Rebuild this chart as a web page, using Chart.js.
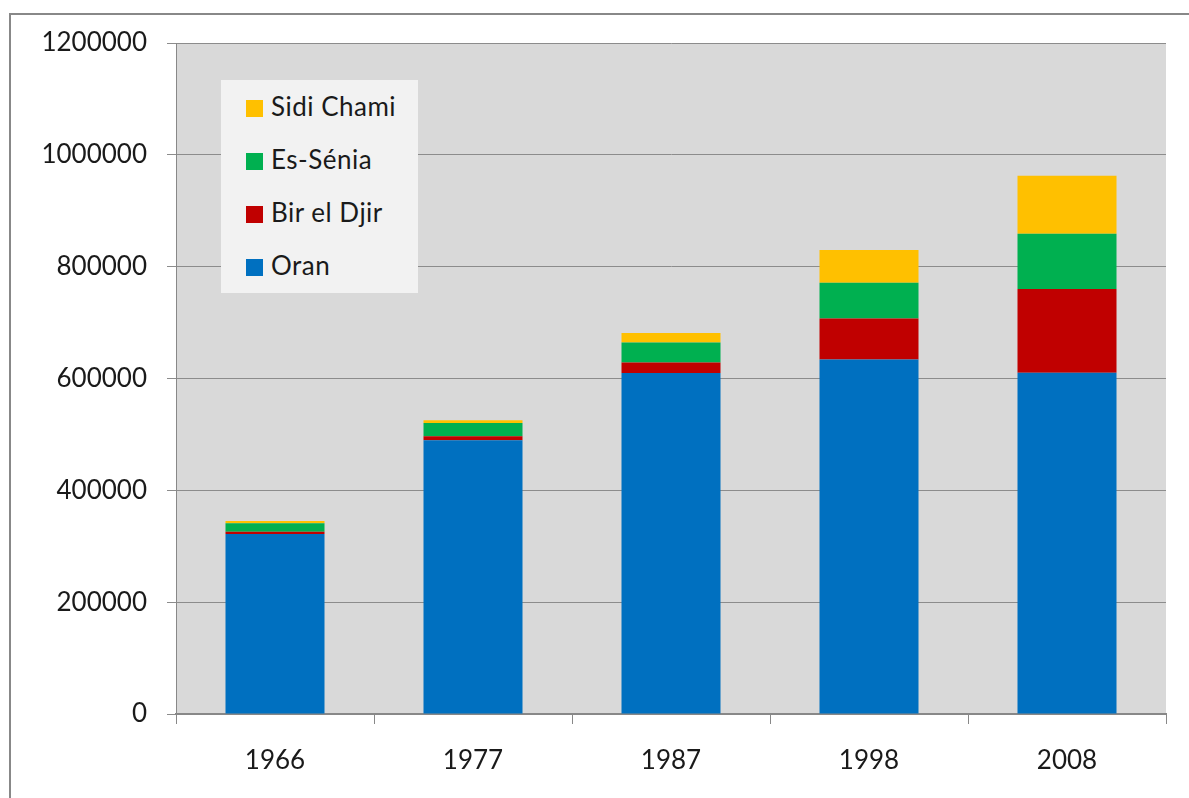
<!DOCTYPE html>
<html>
<head>
<meta charset="utf-8">
<script src="https://cdn.jsdelivr.net/npm/chart.js@4"></script>
<style>
  html, body { margin: 0; padding: 0; background: #fff; overflow: hidden; }
  #wrap { position: relative; width: 1189px; height: 798px; }
  #frame { position: absolute; left: 9px; top: 13px; width: 1300px; height: 900px;
           border-left: 2px solid #888; border-top: 2px solid #888; }
  #legend { position: absolute; left: 221px; top: 80px; width: 197px; height: 213px;
            background: #f2f2f2; font-family: Lato, sans-serif; font-size: 26px; color: #1a1a1a;
            letter-spacing: 0.5px; }
  .item { position: absolute; left: 25px; height: 30px; line-height: 30px; white-space: nowrap; }
  .sw { display: inline-block; width: 17px; height: 17px; margin-right: 8px; vertical-align: -1px; }
</style>
</head>
<body>
<div id="wrap">
  <div id="frame"></div>
  <canvas id="grafico" width="1189" height="798"></canvas>
  <div id="legend"></div>
</div>
<script>
// dados
const anos = ["1966", "1977", "1987", "1998", "2008"];
const oran = [322000, 489500, 609700, 634200, 610300];
const birElDjir = [4000, 7200, 19100, 73300, 149600];
const esSenia = [15000, 23800, 35800, 63700, 98900];
const sidiChami = [4200, 4800, 16700, 58400, 103700];

const nomes = ["Oran", "Bir el Djir", "Es-Sénia", "Sidi Chami"];
const cores = ["#0070c0", "#c00000", "#00b050", "#ffc000"];
const series = [oran, birElDjir, esSenia, sidiChami];

const fonte = { family: "Lato, sans-serif", size: 26 };

const fundo = {
  id: "fundo",
  beforeDraw(chart) {
    const { ctx, chartArea: a } = chart;
    ctx.save();
    ctx.fillStyle = "#d9d9d9";
    ctx.fillRect(a.left, a.top, a.right - a.left, a.bottom - a.top);
    ctx.restore();
  }
};

const ctx = document.getElementById("grafico").getContext("2d");
const myChart = new Chart(ctx, {
  type: "bar",
  data: {
    labels: anos,
    datasets: series.map((s, i) => ({
      label: nomes[i],
      data: s,
      backgroundColor: cores[i],
      borderWidth: 0,
      barPercentage: 0.5,
      categoryPercentage: 1,
    })),
  },
  options: {
    responsive: false,
    animation: false,
    layout: { padding: { left: 0, top: 43, right: 23, bottom: 0 } },
    plugins: { legend: { display: false }, tooltip: { enabled: false } },
    scales: {
      x: {
        stacked: true,
        grid: { drawOnChartArea: false, drawTicks: true, tickLength: 10, color: "#888", offset: true },
        border: { color: "#888", width: 2 },
        ticks: { color: "#1a1a1a", font: fonte, padding: 21 },
        afterFit: (s) => { s.height = 84; },
      },
      y: {
        stacked: true,
        min: 0,
        max: 1200000,
        grid: { color: "#8c8c8c", tickLength: 9, lineWidth: 1 },
        border: { color: "#888", width: 1 },
        ticks: { stepSize: 200000, color: "#1a1a1a", font: fonte, padding: 20,
                 callback: (v) => String(v) },
        afterFit: (s) => { s.width = 176; },
      },
    },
  },
  plugins: [fundo],
});

// legenda em HTML, ordem invertida
const leg = document.getElementById("legend");
const tops = [11, 64, 117, 170];
nomes.slice().reverse().forEach((n, k) => {
  const i = nomes.length - 1 - k;
  const d = document.createElement("div");
  d.className = "item";
  d.style.top = tops[k] + "px";
  d.innerHTML = `<span class="sw" style="background:${cores[i]}"></span>${n}`;
  leg.appendChild(d);
});
</script>
</body>
</html>
